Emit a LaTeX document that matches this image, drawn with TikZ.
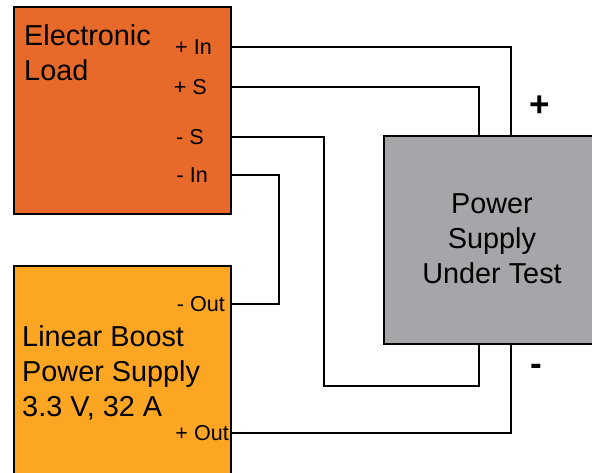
\documentclass[tikz,border=0pt]{standalone}
\usepackage{fontspec}
\setmainfont{Liberation Sans}
\usetikzlibrary{positioning}
\definecolor{loadorange}{RGB}{232,106,42}
\definecolor{boostorange}{RGB}{252,166,36}
\definecolor{dutgray}{RGB}{167,164,170}

\begin{document}
\begin{tikzpicture}[x=0.03cm, y=-0.03cm,
  every node/.style={inner sep=0pt},
  unit/.style={draw=black, line width=1.6pt, minimum width=6.51cm, minimum height=6.21cm},
  big/.style={font=\fontsize{24.6}{30}\selectfont, align=left},
  port/.style={font=\fontsize{18.4}{21}\selectfont, anchor=east},
  wire/.style={line width=1.3pt}]
\useasboundingbox (0,0) rectangle (592,472);
\clip (0,0) rectangle (592,472);
\node[unit, fill=loadorange] (load) at (122.5,110.5) {};
\node[unit, fill=boostorange, minimum height=6.6cm] (boost) at (122.5,376) {};
\node[unit, fill=dutgray, minimum width=6.48cm, minimum height=6.24cm] (dut) at (492,240) {};
\node[big, anchor=north west] (loadtxt) at (24,24) {Electronic\\Load};
\node[big, anchor=north west] (boosttxt) at (22,325) {Linear Boost\\Power Supply\\3.3 V, 32 A};
\node[big, align=center] (duttxt) at (492,239) {Power\\Supply\\Under Test};
\foreach \name/\txt/\x/\y in {
  inP/{+ In}/212/47,
  sP/{+ S}/207/87,
  sN/{- S}/204/137,
  inN/{- In}/208/175,
  outN/{- Out}/225/304,
  outP/{+ Out}/229/433}
  \node[port] (\name) at (\x,\y) {\txt};
\node[font=\fontsize{30}{36}\selectfont\bfseries] (plus) at (540,106) {+};
\node[font=\fontsize{30}{36}\selectfont\bfseries] (minus) at (536,370) {-};
\coordinate (colA) at (511,0);
\coordinate (colB) at (479,0);
\coordinate (loopS) at (324,386);
\coordinate (jog) at (279,304);
\draw[wire] (load.east |- inP) -| (colA |- dut.north);
\draw[wire] (load.east |- sP) -| (colB |- dut.north);
\draw[wire] (load.east |- sN) -| (loopS) -| (colB |- dut.south);
\draw[wire] (load.east |- inN) -| (jog) -- (boost.east |- outN);
\draw[wire] (boost.east |- outP) -| (colA |- dut.south);
\end{tikzpicture}
\end{document}
